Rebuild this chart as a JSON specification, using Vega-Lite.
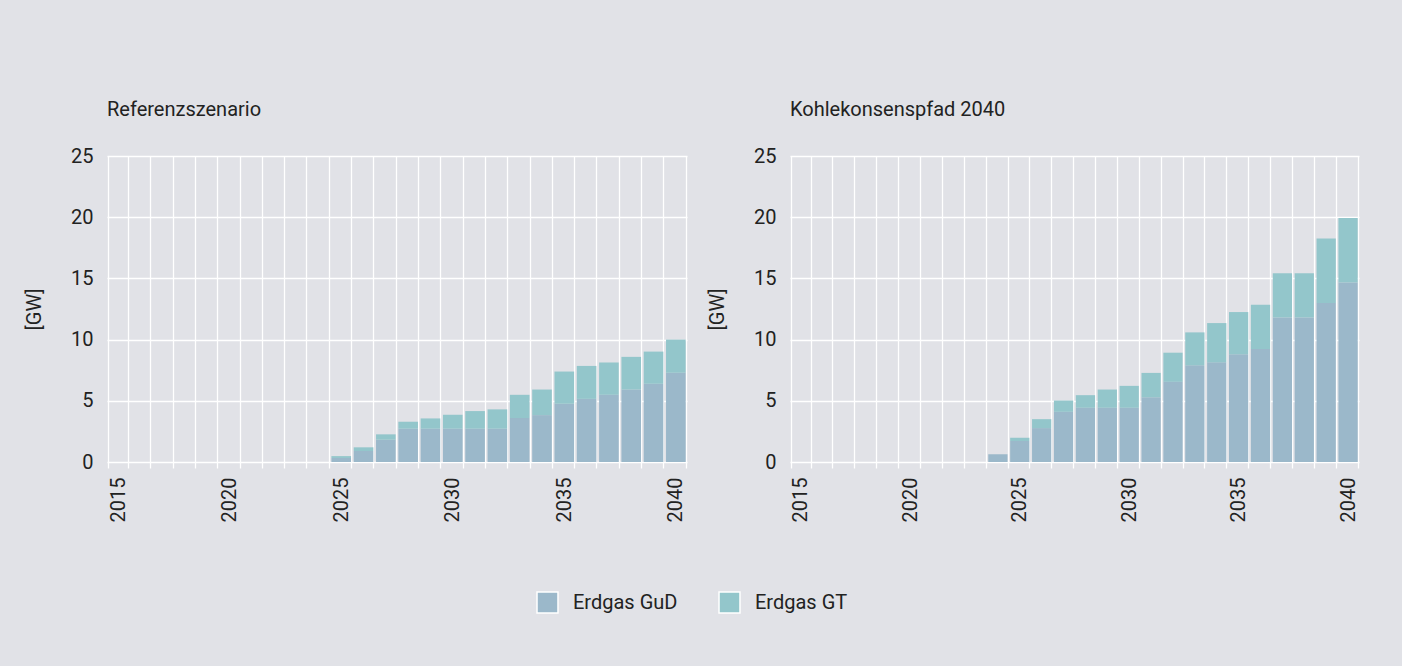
{
  "$schema": "https://vega.github.io/schema/vega-lite/v6.json",
  "background": "#e1e2e7",
  "padding": {"left": 24, "top": 100, "right": 43, "bottom": 54},
  "datasets": {
    "ref": [
      {"year": 2025, "type": "Erdgas GuD", "value": 0.33}, {"year": 2025, "type": "Erdgas GT", "value": 0.15},
      {"year": 2026, "type": "Erdgas GuD", "value": 0.9}, {"year": 2026, "type": "Erdgas GT", "value": 0.3},
      {"year": 2027, "type": "Erdgas GuD", "value": 1.82}, {"year": 2027, "type": "Erdgas GT", "value": 0.44},
      {"year": 2028, "type": "Erdgas GuD", "value": 2.72}, {"year": 2028, "type": "Erdgas GT", "value": 0.57},
      {"year": 2029, "type": "Erdgas GuD", "value": 2.72}, {"year": 2029, "type": "Erdgas GT", "value": 0.84},
      {"year": 2030, "type": "Erdgas GuD", "value": 2.72}, {"year": 2030, "type": "Erdgas GT", "value": 1.14},
      {"year": 2031, "type": "Erdgas GuD", "value": 2.72}, {"year": 2031, "type": "Erdgas GT", "value": 1.44},
      {"year": 2032, "type": "Erdgas GuD", "value": 2.72}, {"year": 2032, "type": "Erdgas GT", "value": 1.58},
      {"year": 2033, "type": "Erdgas GuD", "value": 3.59}, {"year": 2033, "type": "Erdgas GT", "value": 1.9},
      {"year": 2034, "type": "Erdgas GuD", "value": 3.83}, {"year": 2034, "type": "Erdgas GT", "value": 2.09},
      {"year": 2035, "type": "Erdgas GuD", "value": 4.76}, {"year": 2035, "type": "Erdgas GT", "value": 2.63},
      {"year": 2036, "type": "Erdgas GuD", "value": 5.16}, {"year": 2036, "type": "Erdgas GT", "value": 2.69},
      {"year": 2037, "type": "Erdgas GuD", "value": 5.49}, {"year": 2037, "type": "Erdgas GT", "value": 2.64},
      {"year": 2038, "type": "Erdgas GuD", "value": 5.92}, {"year": 2038, "type": "Erdgas GT", "value": 2.67},
      {"year": 2039, "type": "Erdgas GuD", "value": 6.39}, {"year": 2039, "type": "Erdgas GT", "value": 2.63},
      {"year": 2040, "type": "Erdgas GuD", "value": 7.29}, {"year": 2040, "type": "Erdgas GT", "value": 2.71}
    ],
    "kohle": [
      {"year": 2024, "type": "Erdgas GuD", "value": 0.63}, {"year": 2024, "type": "Erdgas GT", "value": 0},
      {"year": 2025, "type": "Erdgas GuD", "value": 1.71}, {"year": 2025, "type": "Erdgas GT", "value": 0.27},
      {"year": 2026, "type": "Erdgas GuD", "value": 2.77}, {"year": 2026, "type": "Erdgas GT", "value": 0.73},
      {"year": 2027, "type": "Erdgas GuD", "value": 4.1}, {"year": 2027, "type": "Erdgas GT", "value": 0.92},
      {"year": 2028, "type": "Erdgas GuD", "value": 4.43}, {"year": 2028, "type": "Erdgas GT", "value": 1.03},
      {"year": 2029, "type": "Erdgas GuD", "value": 4.43}, {"year": 2029, "type": "Erdgas GT", "value": 1.49},
      {"year": 2030, "type": "Erdgas GuD", "value": 4.43}, {"year": 2030, "type": "Erdgas GT", "value": 1.79},
      {"year": 2031, "type": "Erdgas GuD", "value": 5.29}, {"year": 2031, "type": "Erdgas GT", "value": 1.99},
      {"year": 2032, "type": "Erdgas GuD", "value": 6.55}, {"year": 2032, "type": "Erdgas GT", "value": 2.38},
      {"year": 2033, "type": "Erdgas GuD", "value": 7.9}, {"year": 2033, "type": "Erdgas GT", "value": 2.69},
      {"year": 2034, "type": "Erdgas GuD", "value": 8.14}, {"year": 2034, "type": "Erdgas GT", "value": 3.21},
      {"year": 2035, "type": "Erdgas GuD", "value": 8.8}, {"year": 2035, "type": "Erdgas GT", "value": 3.45},
      {"year": 2036, "type": "Erdgas GuD", "value": 9.23}, {"year": 2036, "type": "Erdgas GT", "value": 3.61},
      {"year": 2037, "type": "Erdgas GuD", "value": 11.81}, {"year": 2037, "type": "Erdgas GT", "value": 3.61},
      {"year": 2038, "type": "Erdgas GuD", "value": 11.81}, {"year": 2038, "type": "Erdgas GT", "value": 3.61},
      {"year": 2039, "type": "Erdgas GuD", "value": 13.0}, {"year": 2039, "type": "Erdgas GT", "value": 5.27},
      {"year": 2040, "type": "Erdgas GuD", "value": 14.66}, {"year": 2040, "type": "Erdgas GT", "value": 5.27}
    ]
  },
  "hconcat": [
    {
      "title": {"text": "Referenzszenario"},
      "data": {"name": "ref"},
      "width": 580,
      "height": 306,
      "mark": {"type": "bar"},
      "encoding": {
        "x": {"field": "year", "type": "ordinal",
          "scale": {"domain": [2015,2016,2017,2018,2019,2020,2021,2022,2023,2024,2025,2026,2027,2028,2029,2030,2031,2032,2033,2034,2035,2036,2037,2038,2039,2040], "paddingInner": 0.12, "paddingOuter": 0.06},
          "axis": {"title": null}},
        "y": {"field": "value", "type": "quantitative", "stack": "zero",
          "scale": {"domain": [0, 25]},
          "axis": {"title": "[GW]", "values": [0, 5, 10, 15, 20, 25]}},
        "color": {"field": "type", "type": "nominal",
          "scale": {"domain": ["Erdgas GuD", "Erdgas GT"], "range": ["#9bb8ca", "#93c6cb"]},
          "legend": {"title": null}},
        "order": {"field": "type", "sort": "descending"}
      }
    },
    {
      "title": {"text": "Kohlekonsenspfad 2040"},
      "data": {"name": "kohle"},
      "width": 569,
      "height": 306,
      "mark": {"type": "bar"},
      "encoding": {
        "x": {"field": "year", "type": "ordinal",
          "scale": {"domain": [2015,2016,2017,2018,2019,2020,2021,2022,2023,2024,2025,2026,2027,2028,2029,2030,2031,2032,2033,2034,2035,2036,2037,2038,2039,2040], "paddingInner": 0.12, "paddingOuter": 0.06},
          "axis": {"title": null}},
        "y": {"field": "value", "type": "quantitative", "stack": "zero",
          "scale": {"domain": [0, 25]},
          "axis": {"title": "[GW]", "values": [0, 5, 10, 15, 20, 25]}},
        "color": {"field": "type", "type": "nominal",
          "scale": {"domain": ["Erdgas GuD", "Erdgas GT"], "range": ["#9bb8ca", "#93c6cb"]},
          "legend": {"title": null}},
        "order": {"field": "type", "sort": "descending"}
      }
    }
  ],
  "spacing": 20,
  "resolve": {"scale": {"x": "independent", "y": "independent"}},
  "config": {
    "font": "Roboto",
    "view": {"stroke": null},
    "title": {"anchor": "start", "frame": "group", "fontSize": 20, "fontWeight": "normal", "color": "#222222", "offset": 26},
    "axis": {"labelFont": "Roboto", "titleFont": "Roboto", "labelFontSize": 20, "titleFontSize": 20, "labelColor": "#222222", "titleColor": "#222222", "titleFontWeight": "normal", "gridColor": "#ffffff", "gridWidth": 1.3, "gridOpacity": 1},
    "axisX": {"grid": true, "tickBand": "extent", "ticks": true, "tickColor": "#ffffff", "tickSize": 6, "tickWidth": 1.3, "domain": false, "labelAngle": 270, "labelPadding": 9, "labelOverlap": false, "labelExpr": "datum.value % 5 === 0 ? datum.label : ''"},
    "axisY": {"grid": true, "ticks": false, "domain": false, "labelPadding": 14, "titlePadding": 26},
    "legend": {"orient": "bottom", "direction": "horizontal", "labelFont": "Roboto", "labelFontSize": 20, "labelColor": "#222222", "symbolType": "square", "symbolSize": 440, "symbolStrokeColor": "#ffffff", "symbolStrokeWidth": 1.5, "symbolOpacity": 1, "labelOffset": 14, "columnPadding": 38, "offset": 69, "layout": {"bottom": {"anchor": "middle"}}}
  }
}
